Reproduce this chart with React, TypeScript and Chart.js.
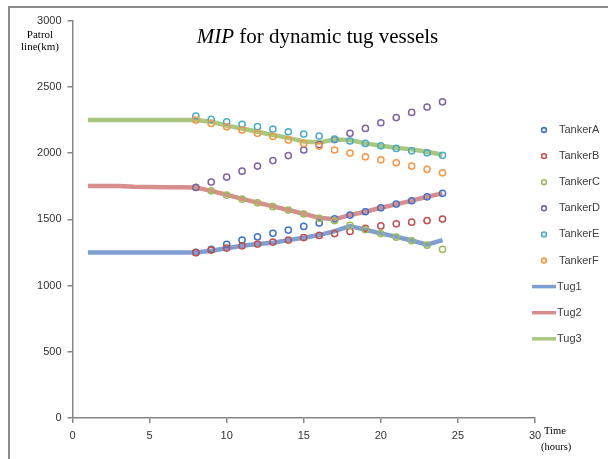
import { useEffect, useRef } from 'react';
import { Chart, registerables } from 'chart.js';

Chart.register(...registerables);

// ---- data ----
const tankerHours = [8, 9, 10, 11, 12, 13, 14, 15, 16, 17, 18, 19, 20, 21, 22, 23, 24];
const tugHours = [1, 2, 3, 4, 5, 6, 7, 8, 9, 10, 11, 12, 13, 14, 15, 16, 17, 18, 19, 20, 21, 22, 23, 24];

const tankerA = [1250, 1273, 1311, 1343, 1368, 1394, 1419, 1446, 1472, 1503, 1532, 1557, 1587, 1615, 1640, 1670, 1696];
const tankerB = [1248, 1268, 1283, 1300, 1313, 1328, 1343, 1362, 1378, 1392, 1408, 1432, 1450, 1466, 1478, 1490, 1502];
const tankerC = [1742, 1715, 1683, 1653, 1625, 1595, 1570, 1540, 1507, 1490, 1454, 1422, 1392, 1365, 1338, 1305, 1273];
const tankerD = [1740, 1781, 1819, 1863, 1902, 1943, 1981, 2023, 2064, 2102, 2149, 2186, 2229, 2268, 2307, 2347, 2387];
const tankerE = [2279, 2254, 2236, 2217, 2199, 2181, 2161, 2143, 2128, 2106, 2091, 2073, 2055, 2035, 2017, 2002, 1983];
const tankerF = [2249, 2224, 2198, 2174, 2149, 2126, 2098, 2073, 2053, 2023, 2000, 1972, 1949, 1927, 1902, 1877, 1851];

const tug1 = [1250, 1250, 1250, 1250, 1250, 1250, 1250, 1250, 1263, 1281, 1300, 1313, 1323, 1343, 1361, 1381, 1411, 1449, 1421, 1394, 1368, 1340, 1308, 1343];
const tug2 = [1752, 1752, 1752, 1745, 1743, 1742, 1742, 1740, 1715, 1685, 1654, 1626, 1598, 1570, 1542, 1511, 1500, 1532, 1557, 1587, 1613, 1641, 1670, 1696];
const tug3 = [2250, 2250, 2250, 2250, 2250, 2250, 2250, 2250, 2236, 2207, 2186, 2161, 2136, 2115, 2088, 2080, 2103, 2098, 2073, 2055, 2040, 2028, 2010, 1987];

const xTicks = [0, 5, 10, 15, 20, 25, 30];
const yTicks = [0, 500, 1000, 1500, 2000, 2500, 3000];

const tankerNames = ['TankerA', 'TankerB', 'TankerC', 'TankerD', 'TankerE', 'TankerF'];
const tankerColors = ['#4472C4', '#C0504D', '#9BBB59', '#8064A2', '#4BACC6', '#F79646'];
const tankerSeries = [tankerA, tankerB, tankerC, tankerD, tankerE, tankerF];

const tugNames = ['Tug1', 'Tug2', 'Tug3'];
const tugColors = ['#7F9ED2', '#D78E8C', '#A9C77E'];
const tugSeries = [tug1, tug2, tug3];

const SANS = '"Liberation Sans Narrow", "Liberation Sans", Arial, sans-serif';
const SERIF = '"Liberation Serif", "Times New Roman", serif';

const overlay = {
  id: 'overlay',
  afterDraw(chart: any) {
    const ctx = chart.ctx as CanvasRenderingContext2D;
    ctx.save();
    // title
    ctx.fillStyle = '#000';
    ctx.textBaseline = 'alphabetic';
    ctx.textAlign = 'left';
    const f1 = 'italic 21px ' + SERIF;
    const f2 = '21px ' + SERIF;
    ctx.font = f1;
    const w1 = ctx.measureText('MIP').width;
    ctx.font = f2;
    const t2 = ' for dynamic tug vessels';
    const w2 = ctx.measureText(t2).width;
    const x0 = 307.5 - (w1 + w2) / 2;
    ctx.font = f1;
    ctx.fillText('MIP', x0, 35);
    ctx.font = f2;
    ctx.fillText(t2, x0 + w1, 35);

    // y axis title
    ctx.font = '11px ' + SERIF;
    ctx.textAlign = 'center';
    ctx.textBaseline = 'middle';
    ctx.fillText('Patrol', 30, 27);
    ctx.fillText('line(km)', 30, 39);

    // x axis title
    ctx.textAlign = 'left';
    ctx.font = '10.5px ' + SERIF;
    ctx.fillText('Time', 534, 423);
    ctx.fillText('(hours)', 531, 439);

    // legend
    ctx.font = '11px ' + SANS;
    ctx.textBaseline = 'middle';
    const rowY0 = 122;
    const rowH = 26.1;
    tankerNames.forEach((n, i) => {
      const y = rowY0 + i * rowH;
      ctx.beginPath();
      ctx.arc(534, y, 2.4, 0, Math.PI * 2);
      ctx.lineWidth = 1.6;
      ctx.strokeStyle = tankerColors[i];
      ctx.stroke();
      ctx.fillStyle = '#404040';
      ctx.fillText(n, 549, y);
    });
    tugNames.forEach((n, i) => {
      const y = rowY0 + (i + 6) * rowH;
      ctx.beginPath();
      ctx.moveTo(522, y);
      ctx.lineTo(546, y);
      ctx.lineWidth = 3.5;
      ctx.strokeStyle = tugColors[i];
      ctx.stroke();
      ctx.fillStyle = '#404040';
      ctx.fillText(n, 547, y);
    });
    ctx.restore();
  },
};

export default function App() {
  const ref = useRef<HTMLCanvasElement>(null);
  useEffect(() => {
    const datasets: any[] = [];
    tankerSeries.forEach((arr, i) => {
      datasets.push({
        label: tankerNames[i],
        data: tankerHours.map((h, k) => ({ x: h, y: arr[k] })),
        showLine: false,
        pointStyle: 'circle',
        pointRadius: 3.1,
        pointBorderWidth: 1.5,
        borderColor: tankerColors[i],
        backgroundColor: 'rgba(255,255,255,0)',
        order: 10 - i,
      });
    });
    tugSeries.forEach((arr, i) => {
      datasets.push({
        label: tugNames[i],
        data: tugHours.map((h, k) => ({ x: h, y: arr[k] })),
        showLine: true,
        pointRadius: 0,
        borderWidth: 4.5,
        borderColor: tugColors[i],
        backgroundColor: tugColors[i],
        tension: 0,
        order: 20 - i,
      });
    });

    const chart = new Chart(ref.current as HTMLCanvasElement, {
      type: 'scatter',
      data: { datasets },
      options: {
        animation: false,
        responsive: false,
        devicePixelRatio: 1,
        layout: { padding: { left: 0, right: 73, top: 12.5, bottom: 0 } },
        plugins: {
          legend: { display: false },
          title: { display: false },
          tooltip: { enabled: false },
        },
        scales: {
          x: {
            type: 'linear',
            min: 0,
            max: 30,
            afterFit: (s: any) => { s.height = 41; },
            afterBuildTicks: (s: any) => { s.ticks = xTicks.map((v) => ({ value: v })); },
            grid: { display: true, drawOnChartArea: false, drawTicks: true, tickLength: 5, color: '#868686', lineWidth: 1.5 },
            border: { color: '#868686', width: 1.5 },
            ticks: { color: '#333', font: { family: SANS, size: 11 }, padding: 6, maxRotation: 0, callback: (v: any) => String(v) },
          },
          y: {
            type: 'linear',
            min: 0,
            max: 3000,
            afterFit: (s: any) => { s.width = 62.5; },
            afterBuildTicks: (s: any) => { s.ticks = yTicks.map((v) => ({ value: v })); },
            grid: { display: true, drawOnChartArea: false, drawTicks: true, tickLength: 5, color: '#868686', lineWidth: 1.5 },
            border: { color: '#868686', width: 1.5 },
            ticks: { color: '#333', font: { family: SANS, size: 11 }, padding: 6, callback: (v: any) => String(v) },
          },
        },
      },
      plugins: [overlay],
    });
    return () => chart.destroy();
  }, []);

  return (
    <div
      style={{
        position: 'absolute',
        left: 8,
        top: 6,
        width: 598,
        height: 451,
        borderTop: '2px solid #8a8a8a',
        borderLeft: '2px solid #8a8a8a',
        background: '#fff',
        overflow: 'hidden',
      }}
    >
      <canvas ref={ref} width={598} height={451} style={{ display: 'block', width: 598, height: 451 }} />
    </div>
  );
}
